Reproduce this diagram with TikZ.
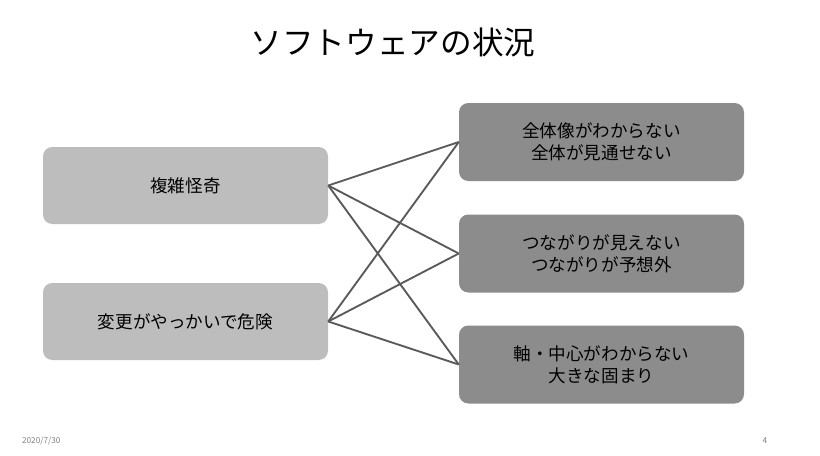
\documentclass[tikz,border=0pt]{standalone}
\usepackage{fontspec}
\setmainfont{Noto Sans CJK JP}
\usetikzlibrary{positioning}
\definecolor{lightbox}{HTML}{BDBDBD}
\definecolor{darkbox}{HTML}{8C8C8C}
\definecolor{linkgray}{HTML}{5A5A5A}
\tikzset{
  leftbox/.style={rectangle,rounded corners=8pt,fill=lightbox,minimum width=285*0.3mm,minimum height=77*0.3mm,font=\fontsize{15}{19}\selectfont,align=center},
  rightbox/.style={rectangle,rounded corners=8pt,fill=darkbox,minimum width=285*0.3mm,minimum height=78*0.3mm,font=\fontsize{15}{19}\selectfont,align=center},
  link/.style={draw=linkgray,line width=1.6pt}
}
\begin{document}
\begin{tikzpicture}[x=0.3mm,y=-0.3mm]
\useasboundingbox (0,0) rectangle (820,455);
\node[font=\fontsize{27}{30}\selectfont] (title) at (393,42) {ソフトウェアの状況};

\node[leftbox] (complex) at (185.5,185.5) {複雑怪奇};
\node[leftbox] (risky) at (185.5,321.5) {変更がやっかいで危険};

\node[rightbox] (whole) at (601.5,142) {全体像がわからない\\全体が見通せない};
\node[rightbox] (links) at (601.5,253.5) {つながりが見えない\\つながりが予想外};
\node[rightbox] (axis) at (601.5,364.5) {軸・中心がわからない\\大きな固まり};

\foreach \a in {complex,risky}
  \foreach \b in {whole,links,axis}
    \draw[link] (\a.east) -- (\b.west);

\node[font=\fontsize{7}{8}\selectfont,text=gray,anchor=west] (date) at (18,441) {2020/7/30};
\node[font=\fontsize{7}{8}\selectfont,text=gray] (page) at (765,441) {4};
\end{tikzpicture}
\end{document}
